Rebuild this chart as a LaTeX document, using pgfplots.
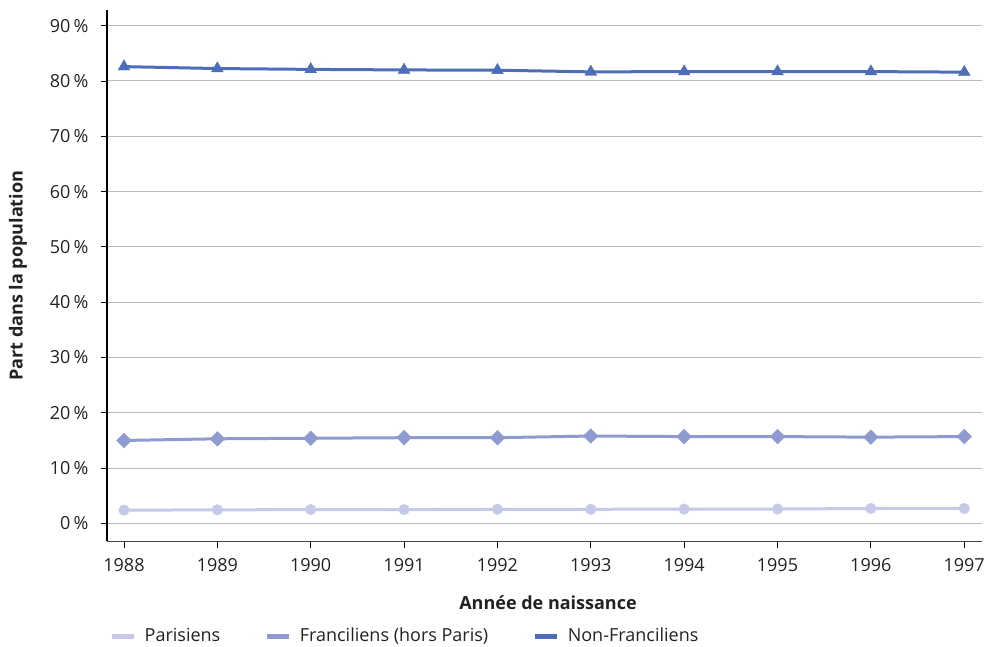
\documentclass[border=0pt]{standalone}
\usepackage{pgfplots}
\pgfplotsset{compat=1.18}
\usepackage{fontspec}
\setmainfont{Open Sans}
\definecolor{cpar}{HTML}{C5CAE8}
\definecolor{cfra}{HTML}{8D9BD1}
\definecolor{cnon}{HTML}{4E6DB8}
\definecolor{cgrid}{HTML}{BDBDBD}
\definecolor{ctxt}{HTML}{222222}
\begin{document}
\fontsize{18bp}{21bp}\selectfont
\begin{tikzpicture}[x=1bp,y=1bp]
\begin{axis}[
  name=ax,
  scale only axis,
  width=875bp, height=531.5bp,
  xmin=1987.818, xmax=1997.19,
  ymin=-3.27, ymax=92.84,
  axis x line*=bottom, axis y line*=left,
  x axis line style={ctxt!85, line width=1.3pt},
  y axis line style={black, line width=1.1pt},
  xtick={1988,...,1997},
  ytick={0,10,...,90},
  yticklabel={\pgfmathprintnumber{\tick}\,\%},
  /pgf/number format/assume math mode=true,
  x tick label style={/pgf/number format/1000 sep={}, yshift=-4bp, text=ctxt},
  y tick label style={text=ctxt, xshift=-6bp},
  tick style={black, line width=0.9pt},
  tick align=outside,
  major tick length=6.5bp,
  ymajorgrids, grid style={cgrid, line width=1pt},
  xtick pos=bottom,
  ytick pos=left,
  xlabel={\textbf{Année de naissance}},
  ylabel={\textbf{Part dans la population}},
  xlabel style={at={(axis description cs:0.504,-0.1157)}, anchor=center, text=ctxt},
  ylabel style={at={(axis description cs:-0.1017,0.5)}, anchor=center, rotate=0, text=ctxt},
  legend style={draw=none, fill=none, inner sep=0pt, at={(axis description cs:0.0023,-0.1787)}, anchor=west, legend columns=3, font=\fontsize{18bp}{21bp}\selectfont, text=ctxt,
    /tikz/every even column/.append style={column sep=42bp},
    /tikz/every odd column/.append style={column sep=6bp}},
  legend image code/.code={\draw[#1, line width=5.5bp] (0bp,0bp) -- (22bp,0bp);},
]
\addplot[cpar, line width=3bp, mark=*, mark size=5.3bp, mark options={fill=cpar, draw=cpar, line width=0.4bp}] coordinates {
(1988,2.4) (1989,2.45) (1990,2.5) (1991,2.5) (1992,2.55) (1993,2.55) (1994,2.6) (1995,2.6) (1996,2.7) (1997,2.7)};
\addlegendentry{Parisiens}
\addplot[cfra, line width=3bp, mark=square*, mark size=5.2bp, mark options={fill=cfra, draw=cfra, line width=0.4bp, rotate=45}] coordinates {
(1988,15.0) (1989,15.3) (1990,15.4) (1991,15.5) (1992,15.5) (1993,15.8) (1994,15.7) (1995,15.7) (1996,15.6) (1997,15.7)};
\addlegendentry{Franciliens (hors Paris)}
\addplot[cnon, line width=3bp, mark=triangle*, mark size=6.8bp, mark options={fill=cnon, draw=cnon, line width=0.4bp}] coordinates {
(1988,82.6) (1989,82.25) (1990,82.1) (1991,82.0) (1992,81.95) (1993,81.65) (1994,81.7) (1995,81.7) (1996,81.7) (1997,81.6)};
\addlegendentry{Non-Franciliens}
\end{axis}
\pgfresetboundingbox
\path (ax.south west) +(-107,-105.5) rectangle +(879,541.5);
\end{tikzpicture}
\end{document}
